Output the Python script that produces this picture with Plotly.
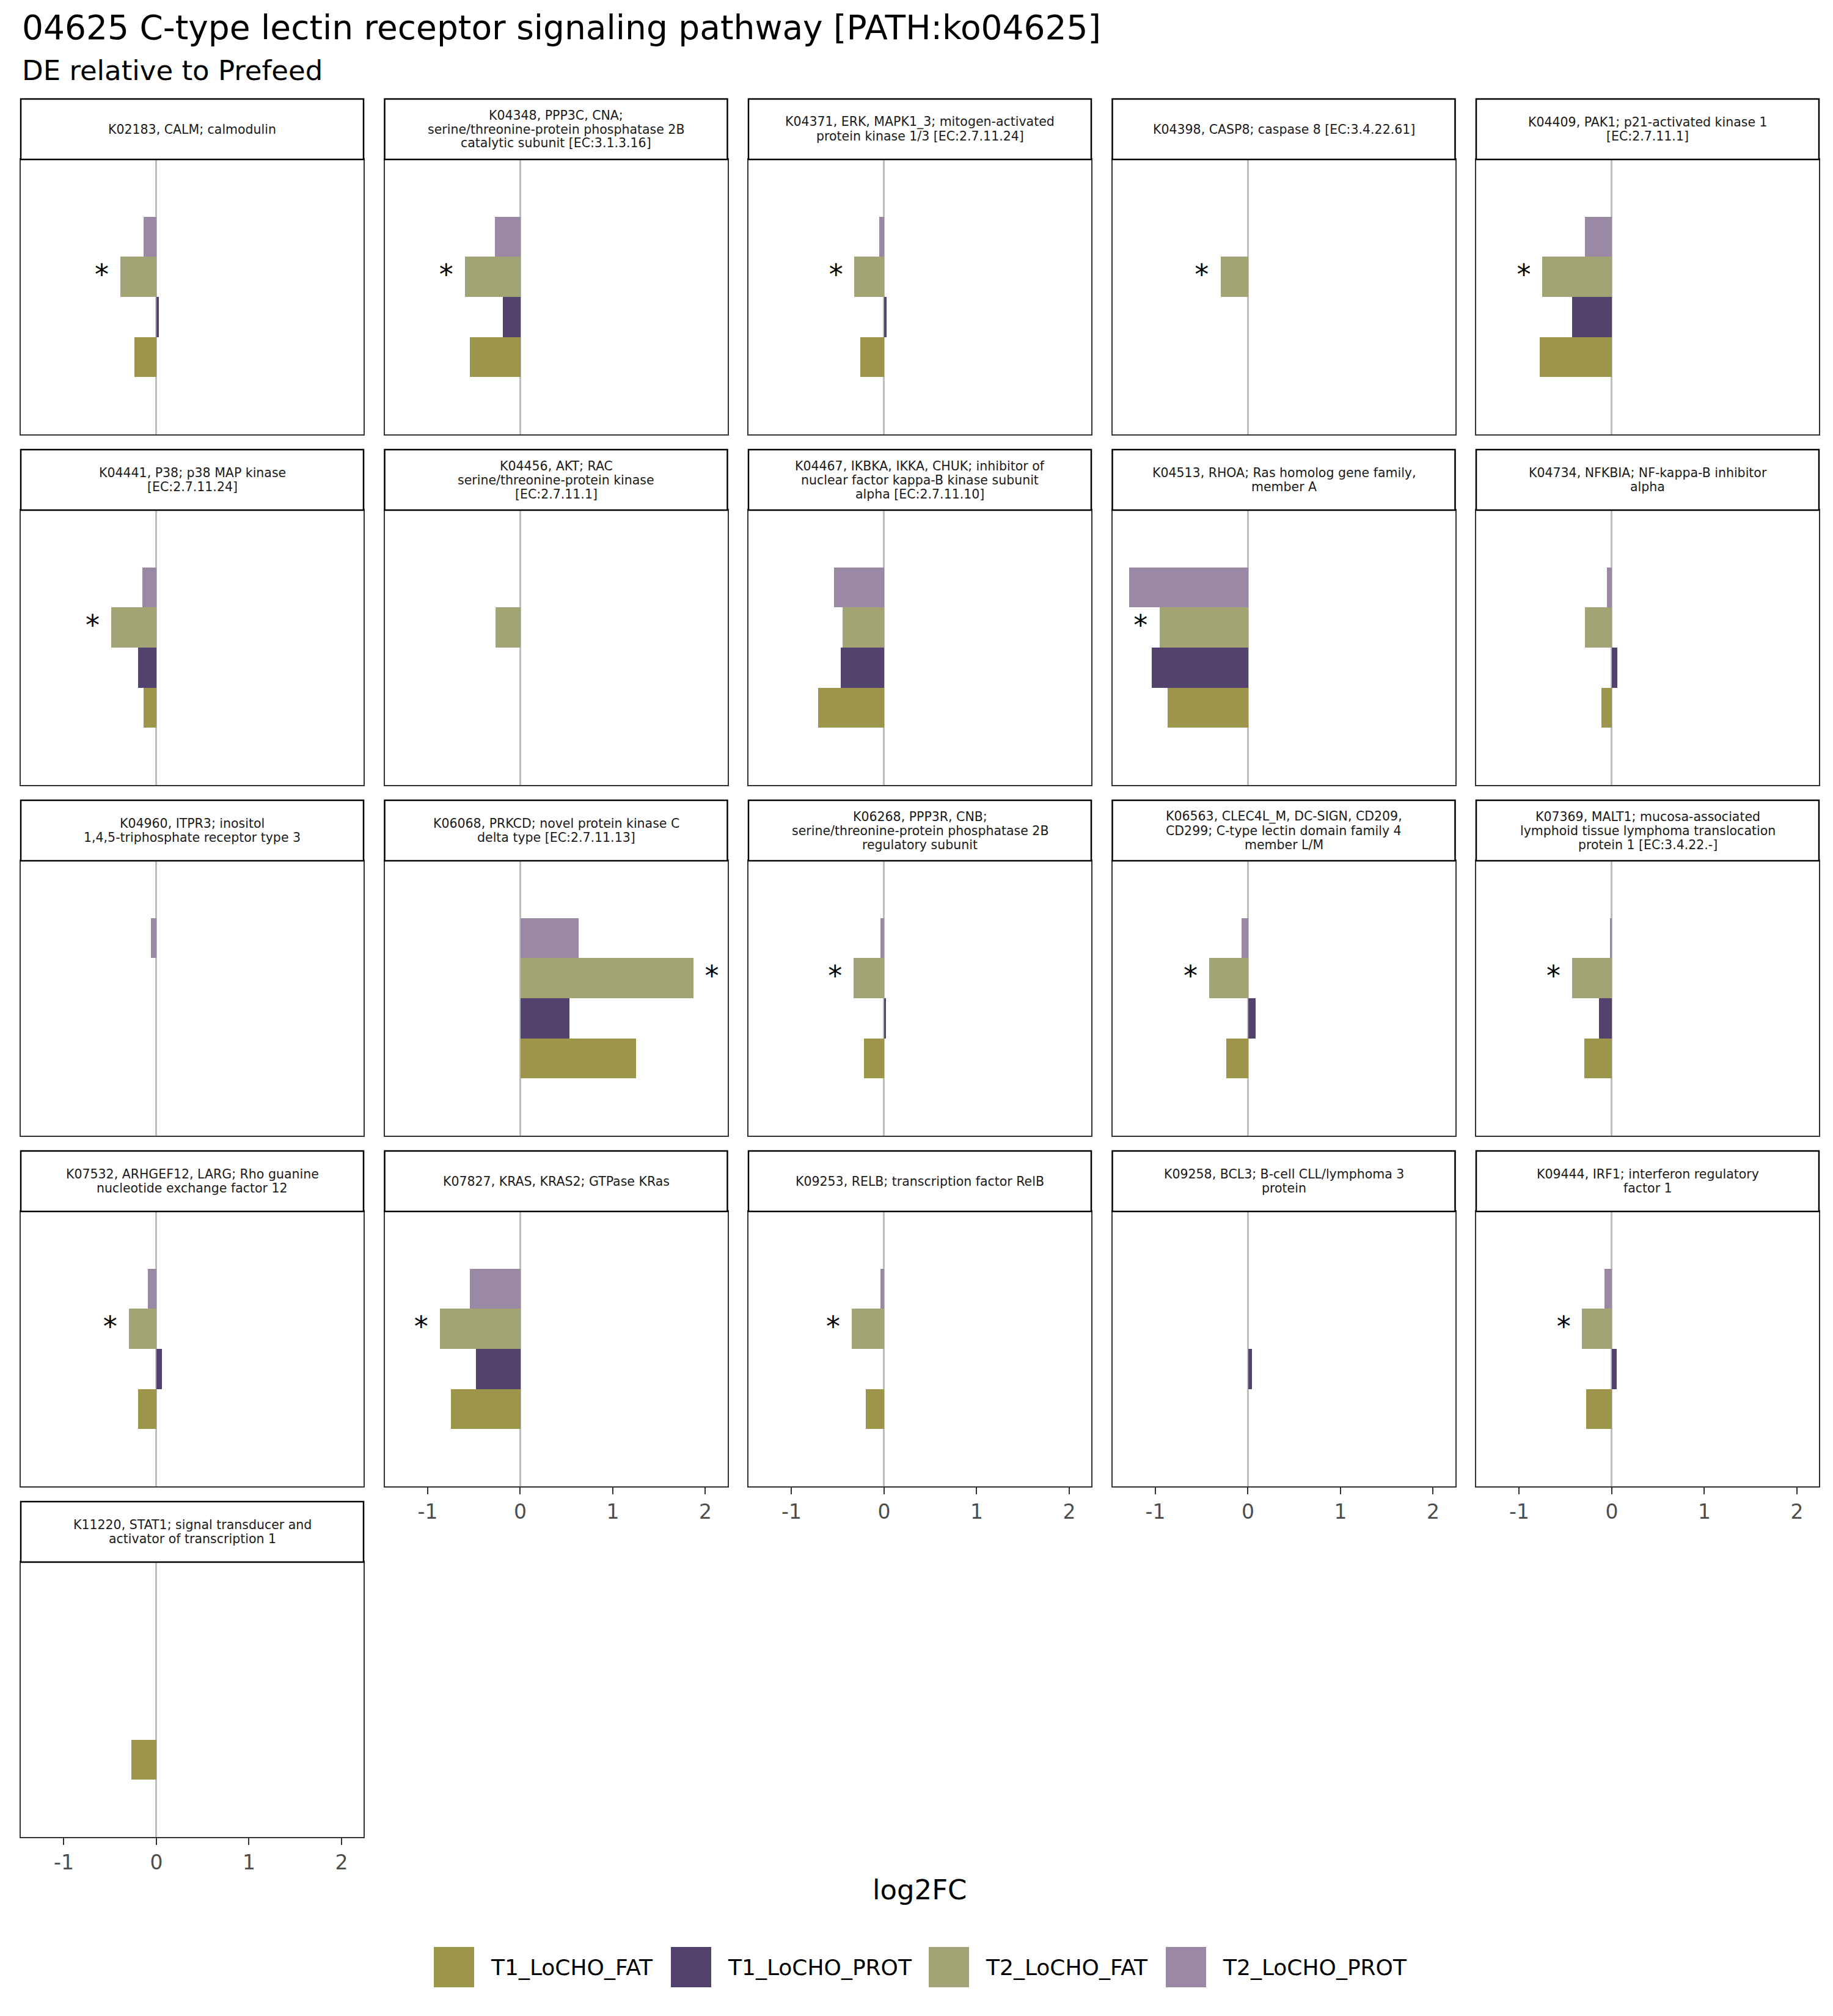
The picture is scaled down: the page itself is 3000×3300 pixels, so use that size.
import plotly.graph_objects as go

W, H = 3000, 3300

# ---------------- data ----------------
series = ["T1_LoCHO_FAT", "T1_LoCHO_PROT", "T2_LoCHO_FAT", "T2_LoCHO_PROT"]
series_colors = ["#9D964A", "#53426E", "#A3A476", "#9A88A5"]

strip_labels = [
    ["K02183, CALM; calmodulin"],
    ["K04348, PPP3C, CNA;", "serine/threonine-protein phosphatase 2B", "catalytic subunit [EC:3.1.3.16]"],
    ["K04371, ERK, MAPK1_3; mitogen-activated", "protein kinase 1/3 [EC:2.7.11.24]"],
    ["K04398, CASP8; caspase 8 [EC:3.4.22.61]"],
    ["K04409, PAK1; p21-activated kinase 1", "[EC:2.7.11.1]"],
    ["K04441, P38; p38 MAP kinase", "[EC:2.7.11.24]"],
    ["K04456, AKT; RAC", "serine/threonine-protein kinase", "[EC:2.7.11.1]"],
    ["K04467, IKBKA, IKKA, CHUK; inhibitor of", "nuclear factor kappa-B kinase subunit", "alpha [EC:2.7.11.10]"],
    ["K04513, RHOA; Ras homolog gene family,", "member A"],
    ["K04734, NFKBIA; NF-kappa-B inhibitor", "alpha"],
    ["K04960, ITPR3; inositol", "1,4,5-triphosphate receptor type 3"],
    ["K06068, PRKCD; novel protein kinase C", "delta type [EC:2.7.11.13]"],
    ["K06268, PPP3R, CNB;", "serine/threonine-protein phosphatase 2B", "regulatory subunit"],
    ["K06563, CLEC4L_M, DC-SIGN, CD209,", "CD299; C-type lectin domain family 4", "member L/M"],
    ["K07369, MALT1; mucosa-associated", "lymphoid tissue lymphoma translocation", "protein 1 [EC:3.4.22.-]"],
    ["K07532, ARHGEF12, LARG; Rho guanine", "nucleotide exchange factor 12"],
    ["K07827, KRAS, KRAS2; GTPase KRas"],
    ["K09253, RELB; transcription factor RelB"],
    ["K09258, BCL3; B-cell CLL/lymphoma 3", "protein"],
    ["K09444, IRF1; interferon regulatory", "factor 1"],
    ["K11220, STAT1; signal transducer and", "activator of transcription 1"],
]

t1_fat = [-0.24, -0.55, -0.26, None, -0.78,
          -0.14, None, -0.71, -0.87, -0.11,
          None, 1.25, -0.22, -0.24, -0.30,
          -0.20, -0.75, -0.20, None, -0.28,
          -0.27]
t1_prot = [0.03, -0.19, 0.03, None, -0.43,
           -0.20, None, -0.47, -1.04, 0.06,
           None, 0.53, 0.02, 0.08, -0.14,
           0.06, -0.48, None, 0.04, 0.05,
           None]
t2_fat = [-0.39, -0.60, -0.32, -0.30, -0.75,
          -0.49, -0.27, -0.45, -0.96, -0.29,
          None, 1.87, -0.33, -0.42, -0.43,
          -0.30, -0.87, -0.35, None, -0.32,
          None]
t2_prot = [-0.14, -0.28, -0.05, None, -0.29,
           -0.15, None, -0.54, -1.29, -0.05,
           -0.06, 0.63, -0.04, -0.07, -0.02,
           -0.09, -0.55, -0.04, None, -0.08,
           None]
t2_fat_signif = [True, True, True, True, True,
                 True, False, False, True, False,
                 False, True, True, True, True,
                 True, True, True, False, True,
                 False]

x_tick_vals = [-1, 0, 1, 2]
x_tick_text = ["-1", "0", "1", "2"]

values = [t1_fat, t1_prot, t2_fat, t2_prot]

# ---------------- layout geometry (pixels) ----------------
FONT = "DejaVu Sans"
NCOL = 5
COL_LEFT0, COL_PITCH, PANEL_W = 34, 595.5, 561
STRIP_TOP0, ROW_PITCH, STRIP_H, PANEL_H = 162, 574, 99, 450
X_RANGE = [-1.465, 2.238]
Y_RANGE = [-1.93, 4.93]
STAR_OFFSET = 0.2


def px(x):
    return x / W


def py(y):
    return 1 - y / H


n = len(strip_labels)
fig = go.Figure()
shapes = []
annotations = []
layout_axes = {}

# bottom panel per column gets the tick labels
bottom_row = {}
for i in range(n):
    r, c = divmod(i, NCOL)
    bottom_row[c] = max(bottom_row.get(c, -1), r)

for i in range(n):
    r, c = divmod(i, NCOL)
    x0 = COL_LEFT0 + COL_PITCH * c
    x1 = x0 + PANEL_W
    s_top = STRIP_TOP0 + ROW_PITCH * r
    p_top = s_top + STRIP_H
    p_bot = p_top + PANEL_H
    k = "" if i == 0 else str(i + 1)
    xa, ya = "x" + k, "y" + k

    for s, name in enumerate(series):
        fig.add_trace(go.Bar(
            x=[values[s][i]], y=[name], orientation="h",
            marker=dict(color=series_colors[s], line=dict(width=0)),
            name=name, showlegend=False, xaxis=xa, yaxis=ya,
            width=1.0, hoverinfo="x+name",
        ))
    if t2_fat_signif[i] and t2_fat[i] is not None:
        sgn = 1 if t2_fat[i] >= 0 else -1
        fig.add_trace(go.Scatter(
            x=[t2_fat[i] + sgn * STAR_OFFSET], y=["T2_LoCHO_FAT"],
            mode="text", text=["*"], textposition="middle center",
            textfont=dict(family=FONT, size=46, color="black"),
            showlegend=False, xaxis=xa, yaxis=ya, hoverinfo="skip",
        ))

    is_bottom = (r == bottom_row[c])
    layout_axes["xaxis" + k] = dict(
        domain=[px(x0), px(x1)], anchor=ya, range=X_RANGE,
        showgrid=False, zeroline=True, zerolinecolor="#BEBEBE", zerolinewidth=3,
        showline=True, mirror=True, linecolor="#333333", linewidth=2,
        tickmode="array", tickvals=x_tick_vals, ticktext=x_tick_text,
        ticks="outside" if is_bottom else "", ticklen=11, tickwidth=2, tickcolor="#333333",
        showticklabels=is_bottom,
        tickfont=dict(family=FONT, size=33, color="#4D4D4D"),
        fixedrange=True,
    )
    layout_axes["yaxis" + k] = dict(
        domain=[py(p_bot), py(p_top)], anchor=xa, range=Y_RANGE,
        type="category", categoryorder="array", categoryarray=series,
        showgrid=False, zeroline=False, showticklabels=False, ticks="",
        showline=True, mirror=True, linecolor="#333333", linewidth=2,
        fixedrange=True,
    )

    # strip box
    shapes.append(dict(type="rect", xref="paper", yref="paper",
                       x0=px(x0), x1=px(x1), y0=py(p_top), y1=py(s_top),
                       fillcolor="white", line=dict(color="black", width=2.5),
                       layer="above"))
    lines = strip_labels[i]
    cy = s_top + STRIP_H / 2
    LS = 23
    for j, ln in enumerate(lines):
        yy = cy + (j - (len(lines) - 1) / 2) * LS
        annotations.append(dict(
            text=ln, xref="paper", yref="paper", x=px((x0 + x1) / 2), y=py(yy),
            xanchor="center", yanchor="middle", showarrow=False,
            font=dict(family=FONT, size=20.5, color="#1A1A1A"),
        ))

# title & subtitle
annotations.append(dict(text="04625 C-type lectin receptor signaling pathway [PATH:ko04625]",
                        xref="paper", yref="paper", x=px(34), y=py(45),
                        xanchor="left", yanchor="middle", showarrow=False,
                        font=dict(family=FONT, size=55, color="black")))
annotations.append(dict(text="DE relative to Prefeed",
                        xref="paper", yref="paper", x=px(34), y=py(115),
                        xanchor="left", yanchor="middle", showarrow=False,
                        font=dict(family=FONT, size=45, color="black")))
# x axis title
annotations.append(dict(text="log2FC", xref="paper", yref="paper",
                        x=px((COL_LEFT0 + COL_LEFT0 + COL_PITCH * 4 + PANEL_W) / 2), y=py(3093),
                        xanchor="center", yanchor="middle", showarrow=False,
                        font=dict(family=FONT, size=45, color="black")))

# manual legend
key_lefts = [710, 1098, 1520, 1908]
KEY = 66
KEY_CY = 3220
for s, name in enumerate(series):
    kx = key_lefts[s]
    shapes.append(dict(type="rect", xref="paper", yref="paper",
                       x0=px(kx), x1=px(kx + KEY), y0=py(KEY_CY + KEY / 2), y1=py(KEY_CY - KEY / 2),
                       fillcolor=series_colors[s], line=dict(width=0)))
    annotations.append(dict(text=name, xref="paper", yref="paper",
                            x=px(kx + KEY + 25), y=py(KEY_CY),
                            xanchor="left", yanchor="middle", showarrow=False,
                            font=dict(family=FONT, size=36, color="black")))

fig.update_layout(
    width=W, height=H, margin=dict(l=0, r=0, t=0, b=0),
    paper_bgcolor="white", plot_bgcolor="white",
    barmode="overlay", bargap=0,
    showlegend=False,
    shapes=shapes, annotations=annotations,
    font=dict(family=FONT),
    **layout_axes,
)

fig.write_html("out.html")
